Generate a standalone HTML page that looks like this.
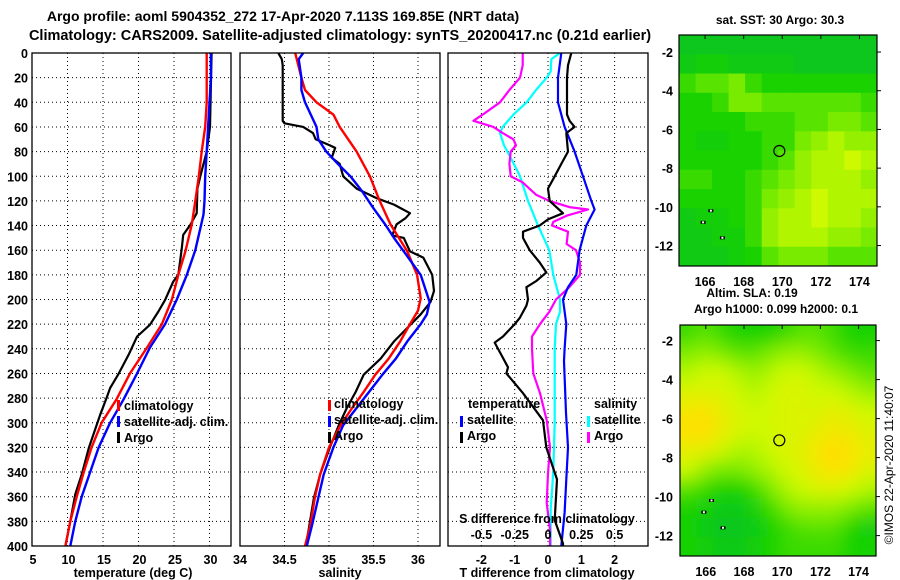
<!DOCTYPE html>
<html><head><meta charset="utf-8"><style>
html,body{margin:0;padding:0;background:#fff;}
svg{display:block;font-family:"Liberation Sans",Arial,sans-serif;font-weight:bold;}
</style></head><body>
<svg id="chart" width="900" height="580" viewBox="0 0 900 580" xmlns="http://www.w3.org/2000/svg">
<defs>
<clipPath id="c1"><rect x="32" y="53" width="199" height="493"/></clipPath>
<clipPath id="c2"><rect x="240" y="53" width="200" height="493"/></clipPath>
<clipPath id="c3"><rect x="448" y="53" width="200" height="493"/></clipPath>
<clipPath id="cm1"><rect x="679" y="35" width="198" height="231"/></clipPath>
<clipPath id="cm2"><rect x="680" y="325" width="196" height="231"/></clipPath>
<filter id="blur" x="-10%" y="-10%" width="120%" height="120%"><feGaussianBlur stdDeviation="9"/></filter>
</defs>
<text x="283" y="21" font-size="14" text-anchor="middle">Argo profile: aoml 5904352_272 17-Apr-2020 7.113S 169.85E (NRT data)</text>
<text x="340" y="40" font-size="14.5" text-anchor="middle">Climatology: CARS2009. Satellite-adjusted climatology: synTS_20200417.nc (0.21d earlier)</text>
<g id="grids"></g>
<g id="p1" clip-path="url(#c1)"></g>
<g id="p2" clip-path="url(#c2)"></g>
<g id="p3" clip-path="url(#c3)"></g>
<g id="frames" fill="none" stroke="#000" stroke-width="1.3">
<rect x="32" y="53" width="199" height="493"/>
<rect x="240" y="53" width="200" height="493"/>
<rect x="448" y="53" width="200" height="493"/>
</g>
<g id="labels" font-size="12.5"></g>
<g font-size="12.5">
<text x="133" y="577" text-anchor="middle">temperature (deg C)</text>
<text x="340" y="577" text-anchor="middle">salinity</text>
<text x="547" y="577" text-anchor="middle">T difference from climatology</text>
<text x="547" y="523" text-anchor="middle">S difference from climatology</text>
</g>
<g id="legends" font-size="12.5">
<rect x="117" y="400" width="3" height="11" fill="#f00"/>
<text x="124" y="410">climatology</text>
<rect x="117" y="416" width="3" height="11" fill="#00f"/>
<text x="124" y="426">satellite-adj. clim.</text>
<rect x="117" y="432" width="3" height="11" fill="#000"/>
<text x="124" y="442">Argo</text>
<rect x="328" y="400" width="3" height="11" fill="#f00"/>
<text x="334" y="408">climatology</text>
<rect x="328" y="416" width="3" height="11" fill="#00f"/>
<text x="334" y="424">satellite-adj. clim.</text>
<rect x="328" y="432" width="3" height="11" fill="#000"/>
<text x="334" y="440">Argo</text>
<text x="468" y="408">temperature</text>
<rect x="460" y="416" width="3" height="11" fill="#00f"/>
<text x="467" y="424">satellite</text>
<rect x="460" y="432" width="3" height="11" fill="#000"/>
<text x="467" y="440">Argo</text>
<text x="594" y="408">salinity</text>
<rect x="587" y="416" width="3" height="11" fill="#0ff"/>
<text x="594" y="424">satellite</text>
<rect x="587" y="432" width="3" height="11" fill="#f0f"/>
<text x="594" y="440">Argo</text>
</g>
<g id="map1" clip-path="url(#cm1)"></g>
<g clip-path="url(#cm2)"><g id="map2" filter="url(#blur)"></g></g>
<g id="mapdeco"></g>
<rect x="679" y="35" width="198" height="231" fill="none" stroke="#000" stroke-width="1.2"/>
<rect x="680" y="325" width="196" height="231" fill="none" stroke="#000" stroke-width="1.2"/>
<g font-size="12">
<text x="780" y="24" text-anchor="middle">sat. SST: 30 Argo: 30.3</text>
<text x="752" y="297" text-anchor="middle">Altim. SLA: 0.19</text>
<text x="776" y="313" text-anchor="middle">Argo h1000: 0.099 h2000: 0.1</text>
<text transform="translate(893,465) rotate(-90)" text-anchor="middle" font-weight="normal" font-size="12">©IMOS 22-Apr-2020 11:40:07</text>
</g>
</svg>
<script>
// ---- profile data ----
const argoTDepth = [0,60,80,100,110,130,139.5,147.6,158.4,180,185.4,200.3,209.7,220.5,230,244.9,260.3,271.9,280,293.5,320.5,342,358,380,400];
const argoT = [30.3,30.07,29.6,28.7,28.3,28.2,27.3,26.3,26.1,25.6,24.9,23.75,22.8,21.6,19.8,18.6,17.2,16.0,15.5,14.6,13.0,12.0,11.1,10.4,9.7];
const climTDepth = [0,40,60,80,100,120,139,161,180,200,220,239,260,281,300,320,340,360,380,400];
const climT = [29.6,29.6,29.4,28.9,28.5,28.0,27.5,26.6,25.6,24.7,23.3,21.2,18.8,16.9,14.8,13.4,12.3,11.3,10.4,9.7];
const satTDepth = [0,20,60,80,100,120,131,160,180,200,220,239,260,281,300,320,340,360,380,400];
const satT = [30.2,30.2,29.8,29.6,29.4,29.3,29.15,28.0,26.8,25.4,23.75,21.6,19.8,17.9,16.0,14.4,13.2,12.0,11.1,10.4];

const argoSDepth = [0,5,10,55,57,60,65,70,75,77,85,90,100,110,118,123,130,134,139,148,150,161,166,180,193,202,212,226,234,248,261,275,288,302,320,342,361,383,400];
const argoS = [34.43,34.47,34.48,34.48,34.5,34.71,34.82,34.85,35.01,35.07,35.03,35.12,35.16,35.31,35.54,35.73,35.91,35.86,35.76,35.71,35.84,35.91,36.06,36.16,36.18,36.14,36.03,35.84,35.73,35.58,35.39,35.3,35.2,35.11,35.01,34.9,34.83,34.78,34.74];
const climSDepth = [0,20,30,40,50,60,80,100,120,139,161,180,199,209,220,234,248,261,275,288,302,320,342,361,383,400];
const climS = [34.62,34.69,34.73,34.86,35.05,35.12,35.31,35.46,35.57,35.69,35.88,35.99,36.03,36.0,35.91,35.8,35.67,35.52,35.39,35.26,35.13,35.0,34.9,34.84,34.79,34.73];
const satSDepth = [0,5,20,30,40,60,70,80,90,100,112,126,139,150,161,180,202,212,220,234,248,261,275,288,302,320,342,361,383,400];
const satS = [34.71,34.66,34.69,34.69,34.73,34.86,34.88,34.97,35.1,35.24,35.37,35.5,35.63,35.73,35.84,36.03,36.13,36.1,36.03,35.88,35.75,35.6,35.45,35.31,35.16,35.05,34.94,34.88,34.81,34.75];

const argoDTDepth = [0,10,20,50,55,60,65,80,90,100,110,120,125,130,135,140,145,150,160,170,178,185,190,200,205,215,220,230,235,245,255,260,276,298,320,346,379,398,400];
const argoDT = [0.7,0.6,0.57,0.57,0.65,0.8,0.55,0.6,0.4,0.2,0,0.05,0.25,0.45,0,-0.25,-0.75,-0.75,-0.55,-0.25,-0.05,-0.35,-0.65,-0.6,-0.65,-0.85,-1.0,-1.35,-1.6,-1.4,-1.2,-1.25,-0.75,-0.15,-0.05,0.27,0.2,0.45,0.45];
const satDTDepth = [0,20,40,60,80,100,120,127,140,160,180,190,200,220,240,250,292,320,346,373,400];
const satDT = [0.4,0.3,0.3,0.5,0.8,1.05,1.3,1.4,1.15,0.95,0.85,0.6,0.45,0.55,0.5,0.48,0.54,0.6,0.55,0.5,0.4];
const argoDSDepth = [0,10,20,30,40,50,55,60,65,70,75,80,90,100,105,115,120,125,127,132,137,140,145,155,160,170,180,190,200,210,220,230,240,260,276,298,320,341,365,387,400];
const argoDS = [-0.19,-0.19,-0.21,-0.29,-0.36,-0.49,-0.56,-0.41,-0.34,-0.26,-0.24,-0.28,-0.29,-0.28,-0.19,-0.09,0.01,0.16,0.30,0.14,0.04,0.03,0.15,0.14,0.21,0.24,0.24,0.16,0.06,0.01,-0.06,-0.12,-0.12,-0.11,-0.06,-0.01,0.015,0.0,-0.01,0.015,0.015];
const satDSDepth = [0,5,15,20,30,40,50,60,65,75,85,100,120,140,160,180,200,210,220,240,260,300,340,370,400];
const satDS = [0.09,0.025,0.02,-0.01,-0.09,-0.16,-0.26,-0.34,-0.36,-0.33,-0.28,-0.21,-0.15,-0.075,0.01,0.04,0.09,0.09,0.06,0.05,0.05,0.05,0.04,0.02,0.02];

// ---- tick labels ----
const depthTicks = [0,20,40,60,80,100,120,140,160,180,200,220,240,260,280,300,320,340,360,380,400];
const tempTicks = [5,10,15,20,25,30];
const salTicks = [34,34.5,35,35.5,36];
const dTTicks = [-2,-1,0,1,2];
const dSTicks = [-0.5,-0.25,0,0.25,0.5];
const lonTicks = [166,168,170,172,174];
const latTicks = [-2,-4,-6,-8,-10,-12];

// ---- map data (normalised colour index 0=green .. 1=orange) ----
const sstGrid = [
[.15,.15,.15,.15,.15,.15,.15,.15,.15,.15,.15,.15],
[.2,.25,.25,.2,.2,.2,.2,.15,.15,.15,.15,.15],
[.35,.4,.4,.45,.35,.3,.3,.3,.3,.3,.3,.3],
[.3,.3,.35,.45,.45,.4,.4,.4,.4,.4,.4,.35],
[.3,.3,.3,.3,.35,.35,.35,.4,.4,.45,.45,.4],
[.3,.25,.25,.3,.3,.35,.35,.45,.5,.55,.5,.5],
[.3,.3,.3,.3,.3,.35,.4,.5,.55,.55,.6,.55],
[.35,.35,.3,.3,.35,.4,.45,.5,.55,.55,.55,.5],
[.3,.3,.3,.3,.35,.45,.5,.55,.6,.55,.55,.55],
[.2,.25,.25,.3,.35,.5,.55,.55,.6,.55,.55,.5],
[.2,.2,.25,.25,.35,.5,.55,.55,.55,.5,.5,.45],
[.2,.2,.2,.25,.3,.4,.45,.45,.45,.4,.4,.4]];
const slaGrid = [
[.35,.4,.35,.3,.3,.3,.35,.4,.4,.35,.3,.3],
[.45,.5,.45,.4,.4,.45,.5,.5,.45,.4,.35,.35],
[.55,.6,.6,.55,.5,.55,.6,.6,.55,.5,.45,.4],
[.65,.65,.65,.6,.55,.6,.65,.65,.6,.6,.55,.5],
[.75,.8,.7,.65,.6,.62,.65,.65,.65,.7,.65,.6],
[.8,.82,.72,.65,.6,.62,.65,.65,.7,.75,.72,.65],
[.7,.7,.62,.55,.55,.6,.65,.68,.78,.82,.78,.7],
[.6,.5,.45,.45,.5,.55,.62,.65,.75,.8,.75,.65],
[.4,.35,.3,.3,.35,.45,.55,.6,.65,.65,.6,.55],
[.3,.25,.2,.2,.25,.35,.45,.5,.5,.5,.45,.4],
[.3,.2,.15,.15,.2,.3,.35,.4,.4,.4,.3,.25],
[.3,.25,.2,.2,.25,.3,.35,.35,.35,.35,.3,.3]];
const argoLon = [169.85];
const argoLat = [-7.113];

const NS = 'http://www.w3.org/2000/svg';
const yD = d => 53 + d * 1.2325;
const xT = t => 32 + (t - 5) * 7.1;
const xS = s => 240 + (s - 34) * 89;
const xDT = t => 548 + t * 33.3;
const xDS = s => 548 + s * 133.2;
const lonX1 = lon => 679 + (lon - 164.65) * 19.3;
const latY1 = lat => 35 + (-1.12 - lat) * 19.35;
const lonX2 = lon => 680 + (lon - 164.65) * 19.1;
const latY2 = lat => 325 + (-1.2 - lat) * 19.5;

function mk(tag, attrs, parent) {
  const e = document.createElementNS(NS, tag);
  for (const k in attrs) e.setAttribute(k, attrs[k]);
  parent.appendChild(e);
  return e;
}
function txt(x, y, s, anchor, parent) {
  const e = mk('text', {x: x, y: y, 'text-anchor': anchor}, parent);
  e.textContent = s;
  return e;
}

const grids = document.getElementById('grids');
const labels = document.getElementById('labels');
const panels = [[32,231],[240,440],[448,648]];
depthTicks.forEach(d => {
  panels.forEach(p => {
    if (d > 0 && d < 400) {
      const g = mk('line', {x1: p[0], x2: p[1], y1: yD(d), y2: yD(d), stroke: '#000', 'stroke-dasharray': '1,3'}, grids);
      
      
    }
  });
  const t = txt(28, yD(d) + 5, String(d), 'end', labels);
  
  
});
function vgrid(vals, f, lo, hi) {
  vals.forEach(v => {
    const x = f(v);
    if (x > lo + 1 && x < hi - 1) {
      const g = mk('line', {x1: x, x2: x, y1: 53, y2: 546, stroke: '#000', 'stroke-dasharray': '1,3'}, grids);
      
      
    }
  });
}
vgrid(tempTicks, xT, 32, 231);
vgrid(salTicks, xS, 240, 440);
vgrid(dTTicks, xDT, 448, 648);
tempTicks.forEach(v => {
  const t = txt(xT(v) + 1, 564, String(v), 'middle', labels);
  
  
});
salTicks.forEach(v => {
  const t = txt(xS(v), 564, String(v), 'middle', labels);
  
  
});
dTTicks.forEach(v => {
  const t = txt(xDT(v), 564, String(v), 'middle', labels);
  
  
});
dSTicks.forEach(v => {
  const t = txt(xDS(v), 539, String(v), 'middle', labels);
  
  
});

function profile(parentId, depths, vals, fx, color, w, name) {
  const pts = depths.map((d, i) => fx(vals[i]).toFixed(1) + ',' + yD(d).toFixed(1)).join(' ');
  const el = mk('polyline', {points: pts, fill: 'none', stroke: color, 'stroke-width': w, 'stroke-linejoin': 'round'}, document.getElementById(parentId));
  
  
}
profile('p1', argoTDepth, argoT, xT, '#000', 2.2, 'argo-temperature-line');
profile('p1', climTDepth, climT, xT, '#f00', 2.4, 'climatology-temperature-line');
profile('p1', satTDepth, satT, xT, '#00f', 2.4, 'satellite-temperature-line');
profile('p2', argoSDepth, argoS, xS, '#000', 2.2, 'argo-salinity-line');
profile('p2', climSDepth, climS, xS, '#f00', 2.4, 'climatology-salinity-line');
profile('p2', satSDepth, satS, xS, '#00f', 2.4, 'satellite-salinity-line');
profile('p3', satDSDepth, satDS, xDS, '#0ff', 2.2, 'satellite-s-difference-line');
profile('p3', argoDSDepth, argoDS, xDS, '#f0f', 2.2, 'argo-s-difference-line');
profile('p3', satDTDepth, satDT, xDT, '#00f', 2.2, 'satellite-t-difference-line');
profile('p3', argoDTDepth, argoDT, xDT, '#000', 2.2, 'argo-t-difference-line');

// ---- maps ----
const stops = [[0,[0,185,60]],[0.3,[25,210,0]],[0.45,[120,235,0]],[0.6,[205,250,0]],[0.8,[255,225,0]],[1,[255,175,0]]];
function cmap(v) {
  for (let i = 1; i < stops.length; i++) {
    if (v <= stops[i][0]) {
      const a = stops[i-1], b = stops[i], f = (v - a[0]) / (b[0] - a[0]);
      const c = a[1].map((x, k) => Math.round(x + (b[1][k] - x) * f));
      return 'rgb(' + c.join(',') + ')';
    }
  }
  return 'rgb(255,175,0)';
}
const lon0 = 164.65, lon1 = 174.93, lat0 = -1.12, lat1 = -13.06;
function drawMap(grid, gid, lx, ly, name, pad) {
  const g = document.getElementById(gid);
  const nr = grid.length, nc = grid[0].length;
  const dlon = (lon1 - lon0) / nc, dlat = (lat0 - lat1) / nr;
  grid.forEach((row, r) => row.forEach((v, c) => {
    const la = lat0 - r * dlat, lo = lon0 + c * dlon;
    let x = lx(lo), y = ly(la), w = lx(lo + dlon) - x, h = ly(la - dlat) - y;
    if (pad) {
      if (c === 0) { x -= 20; w += 20; }
      if (c === nc - 1) w += 20;
      if (r === 0) { y -= 20; h += 20; }
      if (r === nr - 1) h += 20;
    }
    const cell = mk('rect', {x: x.toFixed(1), y: y.toFixed(1), width: (w + 0.6).toFixed(1), height: (h + 0.6).toFixed(1), fill: cmap(v)}, g);
    
    
  }));
}
drawMap(sstGrid, 'map1', lonX1, latY1, 'sst-cell', false);
drawMap(slaGrid, 'map2', lonX2, latY2, 'sla-cell', true);

const deco = document.getElementById('mapdeco');
deco.setAttribute('font-size', '12.5');
[[lonX1, latY1, 286, 35, 266, 679, 877], [lonX2, latY2, 576, 325, 556, 680, 876]].forEach((m, mi) => {
  lonTicks.forEach(lon => {
    const x = m[0](lon);
    const t = txt(x, m[2], String(lon), 'middle', deco);
    
    
    const k = mk('line', {x1: x, x2: x, y1: m[3], y2: m[3] + 4, stroke: '#000'}, deco);
    
    
  });
  latTicks.forEach(lat => {
    const y = m[1](lat);
    const t = txt(673, y + 5, String(lat), 'end', deco);
    
    
    const k = mk('line', {x1: m[6], x2: m[6] + 4, y1: y, y2: y, stroke: '#000'}, deco);
    
    
  });
  const c = mk('circle', {cx: m[0](argoLon[0]), cy: m[1](argoLat[0]), r: 5.5, fill: 'none', stroke: '#000', 'stroke-width': 1.2}, deco);
  
  
  [[165.9,-10.8],[166.9,-11.6],[166.3,-10.2]].forEach(p => {
    const s = mk('rect', {x: m[0](p[0]) - 2.5, y: m[1](p[1]) - 1.5, width: 5, height: 3, fill: '#000'}, deco);
    
    
    const s2 = mk('rect', {x: m[0](p[0]) - 1, y: m[1](p[1]) - 1, width: 2, height: 2, fill: '#fff'}, deco);
    
    
  });
});
</script>
</body></html>
